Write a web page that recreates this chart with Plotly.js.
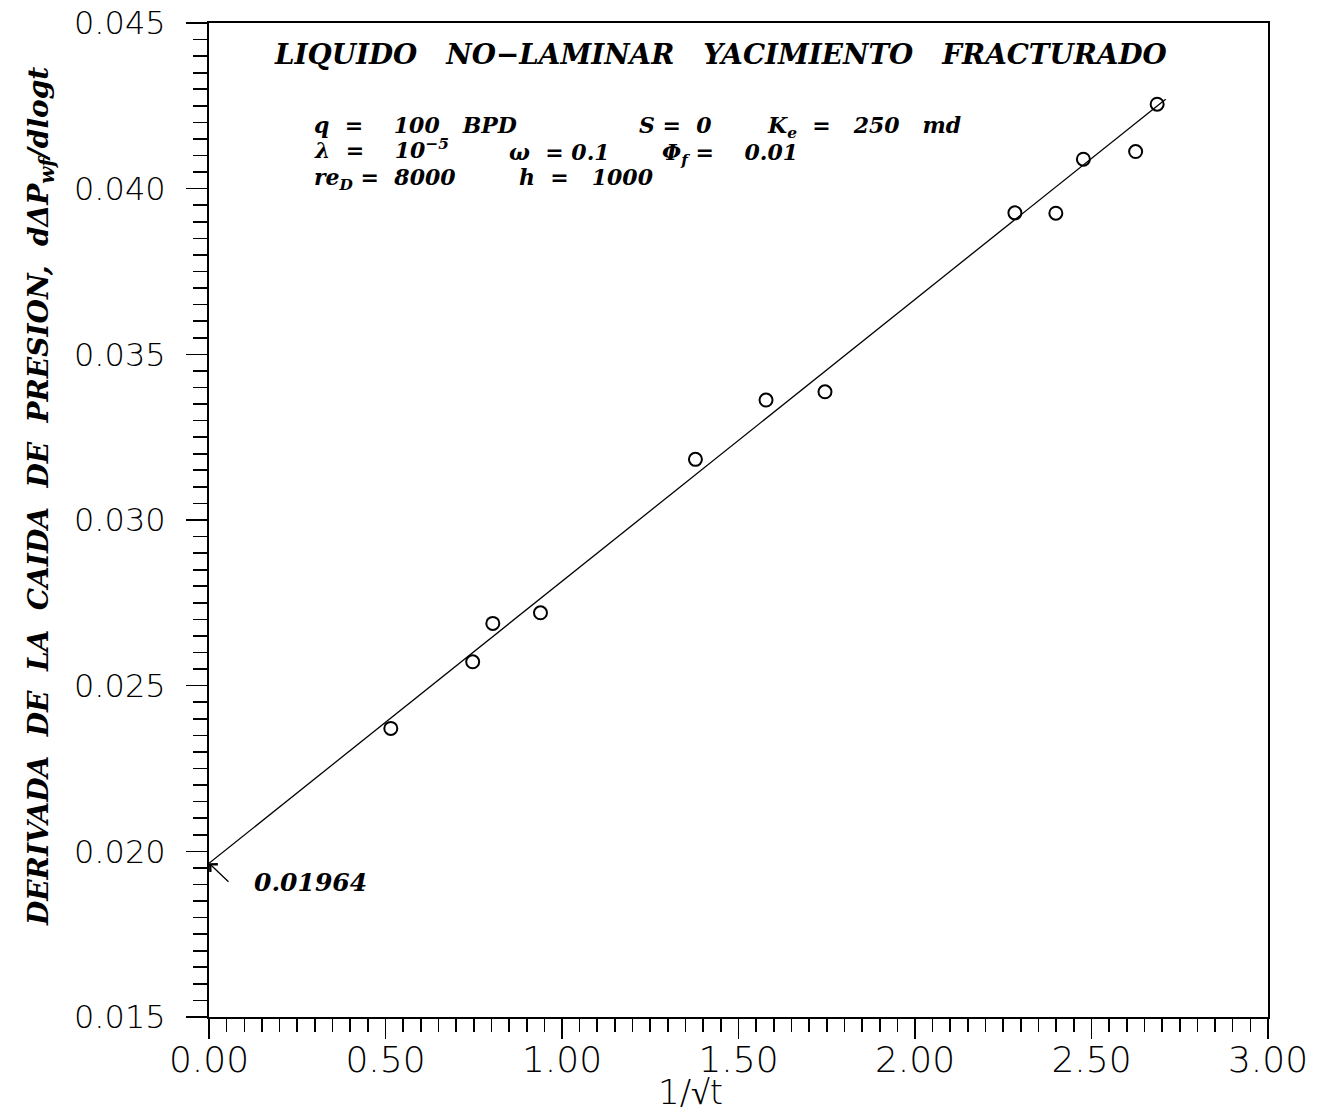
<!DOCTYPE html>
<html>
<head>
<meta charset="utf-8">
<script src="https://cdn.plot.ly/plotly-3.0.1.min.js"></script>
<style>
  html, body { margin: 0; padding: 0; background: #ffffff; }
  #chart { width: 1337px; height: 1112px; }
</style>
</head>
<body>
<div id="chart"></div>
<script>
// ---- data ----
const invSqrtT = [0.515, 0.747, 0.804, 0.939, 1.378, 1.578, 1.745, 2.283, 2.399, 2.477, 2.625, 2.686];
const derivative = [0.02371, 0.02572, 0.02688, 0.02720, 0.03183, 0.03362, 0.03387, 0.03927, 0.03926, 0.04089, 0.04112, 0.04255];
const fitX = [0.0, 2.71];
const fitY = [0.01964, 0.0427];
const intercept = 0.01964;
const xTickVals = [0, 0.5, 1.0, 1.5, 2.0, 2.5, 3.0];
const yTickVals = [0.015, 0.020, 0.025, 0.030, 0.035, 0.040, 0.045];

// ---- layout helpers (pixel -> paper) ----
const L = 209, R = 69, T = 23, B = 95, W = 1337, H = 1112;
const pw = W - L - R, ph = H - T - B;
const px = v => (v - L) / pw;
const py = v => (H - B - v) / ph;

const serif = { family: 'DejaVu Serif', size: 27.8, color: '#000', style: 'italic', weight: 700 };
const serifS = Object.assign({}, serif, { size: 22 });
const sansY = { family: 'DejaVu Sans', size: 32, color: '#000', weight: 200 };
const sansX = { family: 'DejaVu Sans', size: 36, color: '#000', weight: 200 };

function txt(text, x, y, font, extra) {
  return Object.assign({ text: text, xref: 'paper', yref: 'paper', x: px(x), y: py(y),
    xanchor: 'left', yanchor: 'middle', showarrow: false, font: font }, extra || {});
}

const nb = n => '\u00A0'.repeat(n);
const annotations = [
  txt('LIQUIDO' + nb(3) + 'NO\u2212LAMINAR' + nb(3) + 'YACIMIENTO' + nb(3) + 'FRACTURADO', 272, 55, serif),
  txt('q' + nb(2) + '=' + nb(4) + '100' + nb(3) + 'BPD', 312, 125, serifS),
  txt('S' + nb(1) + '=' + nb(2) + '0', 637, 125, serifS),
  txt('K<sub>e</sub>' + nb(2) + '=' + nb(3) + '250' + nb(3) + 'md', 765, 127, serifS),
  txt('\u03BB' + nb(2) + '=' + nb(4) + '10<sup>\u22125</sup>', 312, 149, serifS),
  txt('\u03C9' + nb(2) + '=' + nb(1) + '0.1', 507, 152, serifS),
  txt('\u03A6<sub>f</sub>' + nb(1) + '=' + nb(4) + '0.01', 660, 154, serifS),
  txt('re<sub>D</sub>' + nb(1) + '=' + nb(2) + '8000', 312, 179, serifS),
  txt('h' + nb(2) + '=' + nb(3) + '1000', 517, 177, serifS),
  txt(intercept.toFixed(5), 252, 882, Object.assign({}, serif, { size: 25 })),
  { text: '', xref: 'x', yref: 'y', x: 0, y: intercept, ax: 21, ay: 20,
    showarrow: true, arrowhead: 4, arrowsize: 1.6, arrowwidth: 1.3, arrowcolor: '#000', standoff: 0 },
  txt('DERIVADA' + nb(2) + 'DE' + nb(2) + 'LA' + nb(2) + 'CAIDA' + nb(2) + 'DE' + nb(2) + 'PRESION,' + nb(2) +
      'd\u0394P<sub>wf</sub>/dlogt', 40, 497, Object.assign({}, serif, { size: 28 }),
      { textangle: -90, xanchor: 'center', yanchor: 'middle' }),
  txt('1/\u221At', 690, 1092, Object.assign({}, sansX, { size: 34 }), { xanchor: 'center' })
];

const traces = [
  { x: fitX, y: fitY, type: 'scatter', mode: 'lines',
    line: { color: '#000', width: 1.3 }, hoverinfo: 'skip', showlegend: false },
  { x: invSqrtT, y: derivative, type: 'scatter', mode: 'markers',
    marker: { symbol: 'circle-open', size: 13, color: '#000', line: { color: '#000', width: 2 } },
    showlegend: false }
];

const axisCommon = {
  showgrid: false, zeroline: false, showline: true, linecolor: '#000', linewidth: 2,
  mirror: true, ticks: 'outside', tickcolor: '#000', tickwidth: 1.6,
  tickmode: 'array'
};

const layout = {
  width: W, height: H,
  margin: { l: L, r: R, t: T, b: B },
  paper_bgcolor: '#ffffff', plot_bgcolor: '#ffffff',
  showlegend: false,
  xaxis: Object.assign({}, axisCommon, {
    range: [0, 3], tickvals: xTickVals, ticktext: xTickVals.map(v => v.toFixed(2)), ticklen: 20,
    tickfont: sansX, ticklabelstandoff: -10,
    minor: { dtick: 0.05, tick0: 0, ticks: 'outside', ticklen: 13, tickwidth: 1.6, tickcolor: '#000', showgrid: false }
  }),
  yaxis: Object.assign({}, axisCommon, {
    range: [0.015, 0.045], tickvals: yTickVals, ticktext: yTickVals.map(v => v.toFixed(3)), ticklen: 21,
    tickfont: sansY, ticklabelstandoff: 14,
    minor: { dtick: 0.0005, tick0: 0.015, ticks: 'outside', ticklen: 14, tickwidth: 1.6, tickcolor: '#000', showgrid: false }
  }),
  annotations: annotations
};

Plotly.newPlot('chart', traces, layout, { displayModeBar: false, staticPlot: true });
</script>
</body>
</html>
